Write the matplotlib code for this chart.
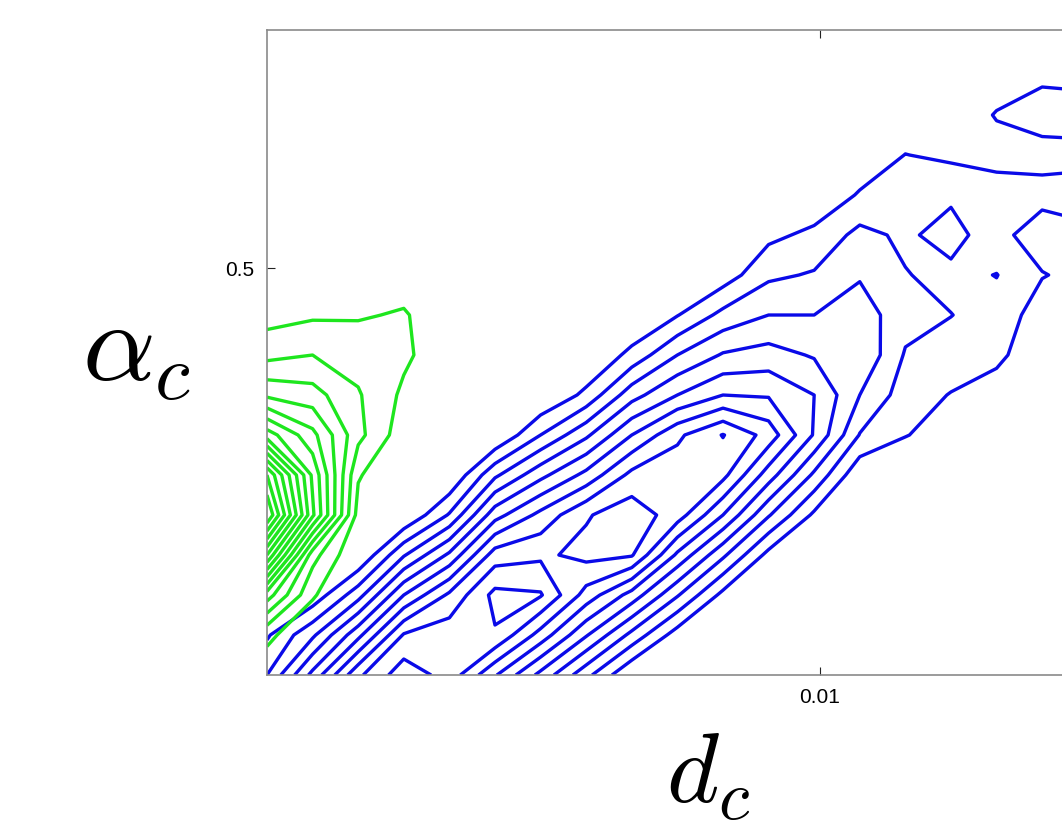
import numpy as np
import matplotlib
matplotlib.use('Agg')
import matplotlib.pyplot as plt

plt.rcParams['mathtext.fontset'] = 'cm'
plt.rcParams['font.family'] = 'Liberation Sans'

# grid of bin centres
d_vals = [0.0003, 0.0011, 0.0019, 0.0027, 0.0035, 0.0043, 0.0051, 0.0059, 0.0067, 0.0075,
          0.0083, 0.0091, 0.0099, 0.0107, 0.0115, 0.0123, 0.0131, 0.0139, 0.0147, 0.0155]
alpha_vals = [0.195, 0.225, 0.255, 0.285, 0.315, 0.345, 0.375, 0.405, 0.435, 0.465,
              0.495, 0.525, 0.555, 0.585, 0.615, 0.645, 0.675, 0.705]

# blue density (rows from bottom to top)
blue = [
    [2.0, 5.3, 8.8, 10.6, 9.6, 7.1, 4.7, 2.3, 0, 0, 0, 0, 0, 0, 0, 0, 0, 0, 0, 0],
    [0.86, 2.8, 5.7, 9.1, 9.6, 9.9, 7.6, 5.1, 2.7, 0.5, 0, 0, 0, 0, 0, 0, 0, 0, 0, 0],
    [0, 0.3, 2.6, 6.0, 8.2, 10.3, 10.1, 7.6, 5.6, 3.1, 0.7, 0, 0, 0, 0, 0, 0, 0, 0, 0],
    [0, 0, 0, 2.9, 5.2, 8.5, 8.8, 9.3, 9.1, 5.8, 3.2, 0.67, 0, 0, 0, 0, 0, 0, 0, 0],
    [0, 0, 0, 0, 2.1, 5.6, 7.3, 8.9, 9.6, 8.5, 6.0, 3.1, 0.8, 0, 0, 0, 0, 0, 0, 0],
    [0, 0, 0, 0, 0, 2.8, 4.7, 6.3, 8.3, 8.6, 8.3, 5.5, 2.8, 0.2, 0, 0, 0, 0, 0, 0],
    [0, 0, 0, 0, 0, 0, 2.0, 3.8, 6.0, 7.8, 9.05, 7.6, 4.9, 1.95, 1.05, 0.5, 0, 0, 0, 0],
    [0, 0, 0, 0, 0, 0, 0, 1.25, 3.6, 5.0, 6.0, 5.9, 5.0, 3.0, 1.5, 0.95, 0.6, 0, 0, 0],
    [0, 0, 0, 0, 0, 0, 0, 0, 1.3, 3.0, 4.1, 4.4, 3.9, 3.9, 1.9, 1.6, 1.2, 0.4, 0.3, 0.3],
    [0, 0, 0, 0, 0, 0, 0, 0, 0, 0.95, 2.3, 3.0, 3.0, 3.5, 2.4, 2.02, 1.6, 0.5, 0.4, 0.3],
    [0, 0, 0, 0, 0, 0, 0, 0, 0, 0, 0.45, 1.8, 2.1, 2.9, 2.05, 1.7, 2.03, 1.05, 0.7, 0.6],
    [0, 0, 0, 0, 0, 0, 0, 0, 0, 0, 0, 0.75, 1.25, 2.3, 1.8, 2.45, 1.3, 0.5, 0.85, 0.8],
    [0, 0, 0, 0, 0, 0, 0, 0, 0, 0, 0, 0, 0.2, 1.1, 1.5, 1.8, 1.4, 1.3, 1.3, 1.2],
    [0, 0, 0, 0, 0, 0, 0, 0, 0, 0, 0, 0, 0, 0.3, 1.02, 0.8, 0.7, 0.7, 0.8, 0.8],
    [0, 0, 0, 0, 0, 0, 0, 0, 0, 0, 0, 0, 0, 0, 0.3, 0.5, 1.05, 1.35, 1.3, 1.2],
    [0, 0, 0, 0, 0, 0, 0, 0, 0, 0, 0, 0, 0, 0, 0, 0.2, 0.6, 0.85, 0.8, 0.8],
    [0, 0, 0, 0, 0, 0, 0, 0, 0, 0, 0, 0, 0, 0, 0, 0, 0, 0.2, 0.2, 0.2],
    [0, 0, 0, 0, 0, 0, 0, 0, 0, 0, 0, 0, 0, 0, 0, 0, 0, 0, 0, 0],
]
blue_levels = [1, 2, 3, 4, 5, 6, 7, 8, 9, 10]

# green density, first five columns only
green = [
    [0.5, 0, 0, 0, 0],
    [1.2, 0.3, 0, 0, 0],
    [4.5, 1.1, 0, 0, 0],
    [10.0, 2.4, 0, 0, 0],
    [15.0, 7.2, 0.6, 0, 0],
    [13.0, 6.8, 1.1, 0, 0],
    [7.5, 5.3, 2.3, 0.4, 0],
    [3.8, 3.4, 2.1, 0.8, 0],
    [1.7, 2.0, 1.6, 1.2, 0.3],
    [0.6, 0.85, 0.9, 1.1, 0.3],
    [0.2, 0.3, 0.3, 0.5, 0],
    [0, 0, 0, 0, 0],
]
green_levels = [1, 2, 3, 4, 5, 6, 7, 8, 9, 10, 11, 12, 13, 14]

fig = plt.figure(figsize=(10.62, 8.31), dpi=100)
ax = fig.add_axes([0.2514, 0.1877, 0.8158, 0.7762])

ax.contour(d_vals, alpha_vals, np.array(blue), levels=blue_levels,
           colors='#0a0ae8', linewidths=2.4)
ax.contour(d_vals[:5], alpha_vals[:12], np.array(green), levels=green_levels,
           colors='#1ee61e', linewidths=2.4)

ax.set_xlim(0.0003, 0.0155)
ax.set_ylim(0.195, 0.67875)
ax.set_xticks([0.01])
ax.set_xticklabels(['0.01'])
ax.set_yticks([0.5])
ax.set_yticklabels(['0.5'])
ax.tick_params(direction='in', length=6, width=0.8, top=True, right=True,
               labelsize=15, pad=9, color='#222222')
for s in ax.spines.values():
    s.set_color('#8a8a8a')
    s.set_linewidth(1.2)

fig.text(137 / 1062, 1 - 352 / 831, r'$\alpha_c$', fontsize=82, ha='center', va='center')
fig.text(708 / 1062, 1 - 803 / 831, r'$d_c$', fontsize=72, ha='center', va='baseline')

plt.savefig('out.png', dpi=100)
